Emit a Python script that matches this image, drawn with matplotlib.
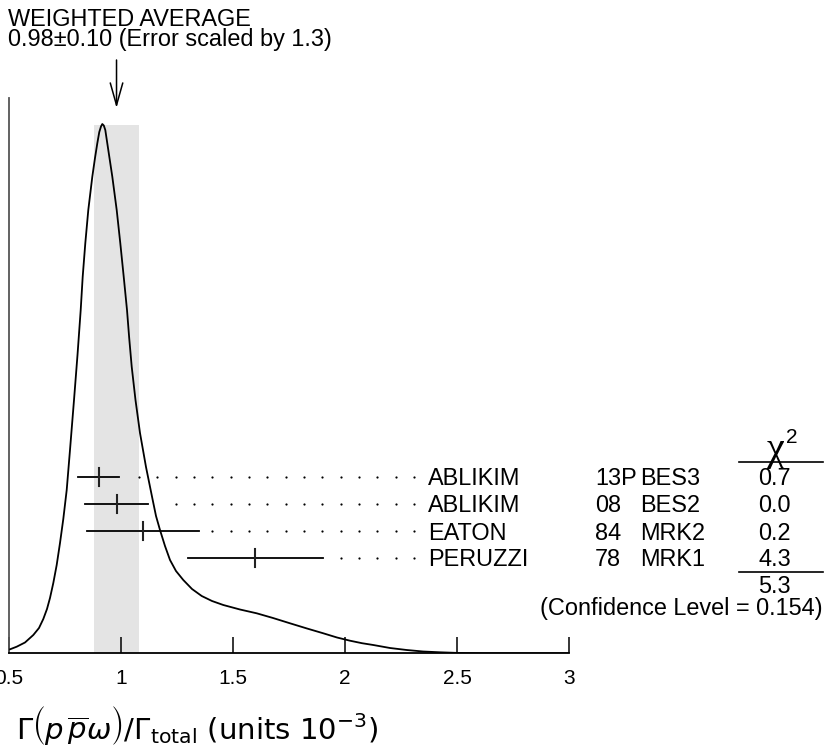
import matplotlib
matplotlib.use('Agg')
import matplotlib.pyplot as plt

plt.rcParams['font.family'] = ['Liberation Sans', 'DejaVu Sans']

# measurements
names = ['ABLIKIM', 'ABLIKIM', 'EATON', 'PERUZZI']
years = ['13P', '08', '84', '78']
experiments = ['BES3', 'BES2', 'MRK2', 'MRK1']
values = [0.90, 0.98, 1.10, 1.60]
errors = [0.09, 0.14, 0.25, 0.30]
chi2 = [0.7, 0.0, 0.2, 4.3]
chi2_total = 5.3
conf_level = 0.154

# weighted average
avg = 0.98
avg_err = 0.10
err_scale = 1.3

# ideogram curve (height in arbitrary units)
curve_x = [0.5045, 0.5344, 0.5714, 0.6085, 0.6339, 0.6531, 0.6696, 0.6830, 0.6978, 0.7129,
           0.7277, 0.7424, 0.7576, 0.7723, 0.7902, 0.8058, 0.8201, 0.8290, 0.8406, 0.8540,
           0.8719, 0.8839, 0.8942, 0.9031, 0.9107, 0.9165, 0.9232, 0.9299, 0.9388, 0.9500,
           0.9612, 0.9808, 0.9969, 1.0121, 1.0268, 1.0366, 1.0478, 1.0647, 1.0848, 1.1116,
           1.1415, 1.1563, 1.1741, 1.1964, 1.2188, 1.2455, 1.2781, 1.3170, 1.3603, 1.4063,
           1.4567, 1.5312, 1.6058, 1.6786, 1.7545, 1.8304, 1.9031, 1.9643, 2.0223, 2.0759,
           2.1263, 2.2009, 2.2754, 2.3482, 2.4241, 2.5134, 2.6161, 3.0]
curve_y = [4.0, 6.6, 10.8, 18.3, 25.3, 34.3, 44.3, 55.3, 70.3, 88.3,
           110.3, 134.3, 163.3, 203.3, 253.3, 298.3, 343.3, 376.6, 410.0, 443.3,
           476.6, 495.3, 510.0, 521.3, 526.8, 529.3, 527.8, 523.3, 510.0, 493.3,
           476.6, 443.3, 410.0, 376.6, 343.3, 315.3, 286.6, 253.3, 220.3, 186.3,
           153.3, 137.3, 123.3, 107.3, 93.3, 82.3, 73.3, 64.3, 57.3, 52.3,
           48.3, 43.8, 40.0, 35.3, 30.0, 24.8, 20.0, 15.8, 12.6, 10.1,
           8.3, 5.3, 3.3, 1.8, 1.0, 0.3, 0.0, 0.0]

xticks = [0.5, 1, 1.5, 2, 2.5, 3]
xtick_labels = ['0.5', '1', '1.5', '2', '2.5', '3']

W, H = 824, 756
fig = plt.figure(figsize=(W / 100, H / 100), dpi=100)
ax = fig.add_axes([9 / W, (H - 653.3) / H, 560 / W, 555.3 / H])
ax.set_xlim(0.5, 3.0)
ax.set_ylim(0, 555.3)

px = 224.0  # pixels per x unit
fs = 16.9

# shaded band for the average
ax.fill_between([avg - avg_err, avg + avg_err], 0, 528.3, color='#e4e4e4', lw=0, zorder=0)

ax.plot(curve_x, curve_y, color='black', lw=1.3, zorder=3)

# error bars, dotted leaders and labels
x_name = 0.5 + (428 - 9) / px
x_year = 0.5 + (595 - 9) / px
x_exp = 0.5 + (640 - 9) / px
x_chi = 0.5 + (791 - 9) / px
dot_start = 0.5 + (139 - 9) / px
dot_step = 18.33 / px
for i in range(len(names)):
    yr = 176.3 - 27 * i
    lo = values[i] - errors[i]
    hi = values[i] + errors[i]
    ax.plot([lo, hi], [yr, yr], color='black', lw=1.3, zorder=4, clip_on=False)
    ax.plot([values[i], values[i]], [yr - 9, yr + 9], color='#222222', lw=1.5, zorder=4, clip_on=False)
    dots = []
    k = 0
    while dot_start + k * dot_step < x_name - 0.04:
        d = dot_start + k * dot_step
        if d > hi + 0.045:
            dots.append(d)
        k += 1
    ax.plot(dots, [yr] * len(dots), ls='none', marker='o', ms=1.6, mew=0,
            color='black', clip_on=False)
    yb = yr - 8.5
    ax.text(x_name, yb, names[i], fontsize=fs, va='baseline', ha='left')
    ax.text(x_year, yb, years[i], fontsize=fs, va='baseline', ha='left')
    ax.text(x_exp, yb, experiments[i], fontsize=fs, va='baseline', ha='left')
    ax.text(x_chi, yb, f'{chi2[i]:.1f}', fontsize=fs, va='baseline', ha='right')

# chi2 column header and total
x_l1 = 0.5 + (739 - 9) / px
x_l2 = 0.5 + (823 - 9) / px
ax.plot([x_l1, x_l2], [191.6, 191.6], color='black', lw=1.2, clip_on=False)
ax.plot([x_l1, x_l2], [81.6, 81.6], color='black', lw=1.2, clip_on=False)
ax.text(0.5 + (775 - 9) / px, 193.3, '\u03c7', family='Liberation Serif', fontsize=29,
        ha='center', va='baseline')
ax.text(0.5 + (786 - 9) / px, 210, '2', fontsize=15, ha='left', va='baseline')
ax.text(x_chi, 60.3, f'{chi2_total:.1f}', fontsize=fs, va='baseline', ha='right')
ax.text(x_l2, 38.3, f'(Confidence Level = {conf_level})', fontsize=fs, va='baseline', ha='right')

# arrow and weighted average text
ax.annotate('', xy=(avg, 545.3), xytext=(avg, 593.3), annotation_clip=False,
            arrowprops=dict(arrowstyle='->,head_length=1.6,head_width=0.45', lw=1.1,
                            color='black', shrinkA=0, shrinkB=0))
fig.text(8 / W, (H - 26) / H, 'WEIGHTED AVERAGE', fontsize=fs, va='baseline', ha='left')
fig.text(8 / W, (H - 46) / H, f'{avg:.2f}\u00b1{avg_err:.2f} (Error scaled by {err_scale})',
         fontsize=fs, va='baseline', ha='left')

# axes styling
for s in ['top', 'right']:
    ax.spines[s].set_visible(False)
ax.spines['left'].set_color('#555555')
ax.spines['left'].set_linewidth(1.3)
ax.spines['bottom'].set_linewidth(1.3)
ax.set_yticks([])
ax.set_xticks(xticks)
ax.set_xticklabels(xtick_labels)
ax.tick_params(axis='x', direction='in', length=11.5, width=1.1, pad=11.5, labelsize=15)

fig.text(16 / W, (H - 740) / H,
         r'$\Gamma\left(p\,\overset{\,}{\overset{\,}{\overline{p}}}\omega\right)'
         r'/\Gamma_{\mathrm{total}}\ (\mathrm{units}\ 10^{-3})$',
         fontsize=21, va='baseline', ha='left')

fig.savefig('out.png', dpi=100)
